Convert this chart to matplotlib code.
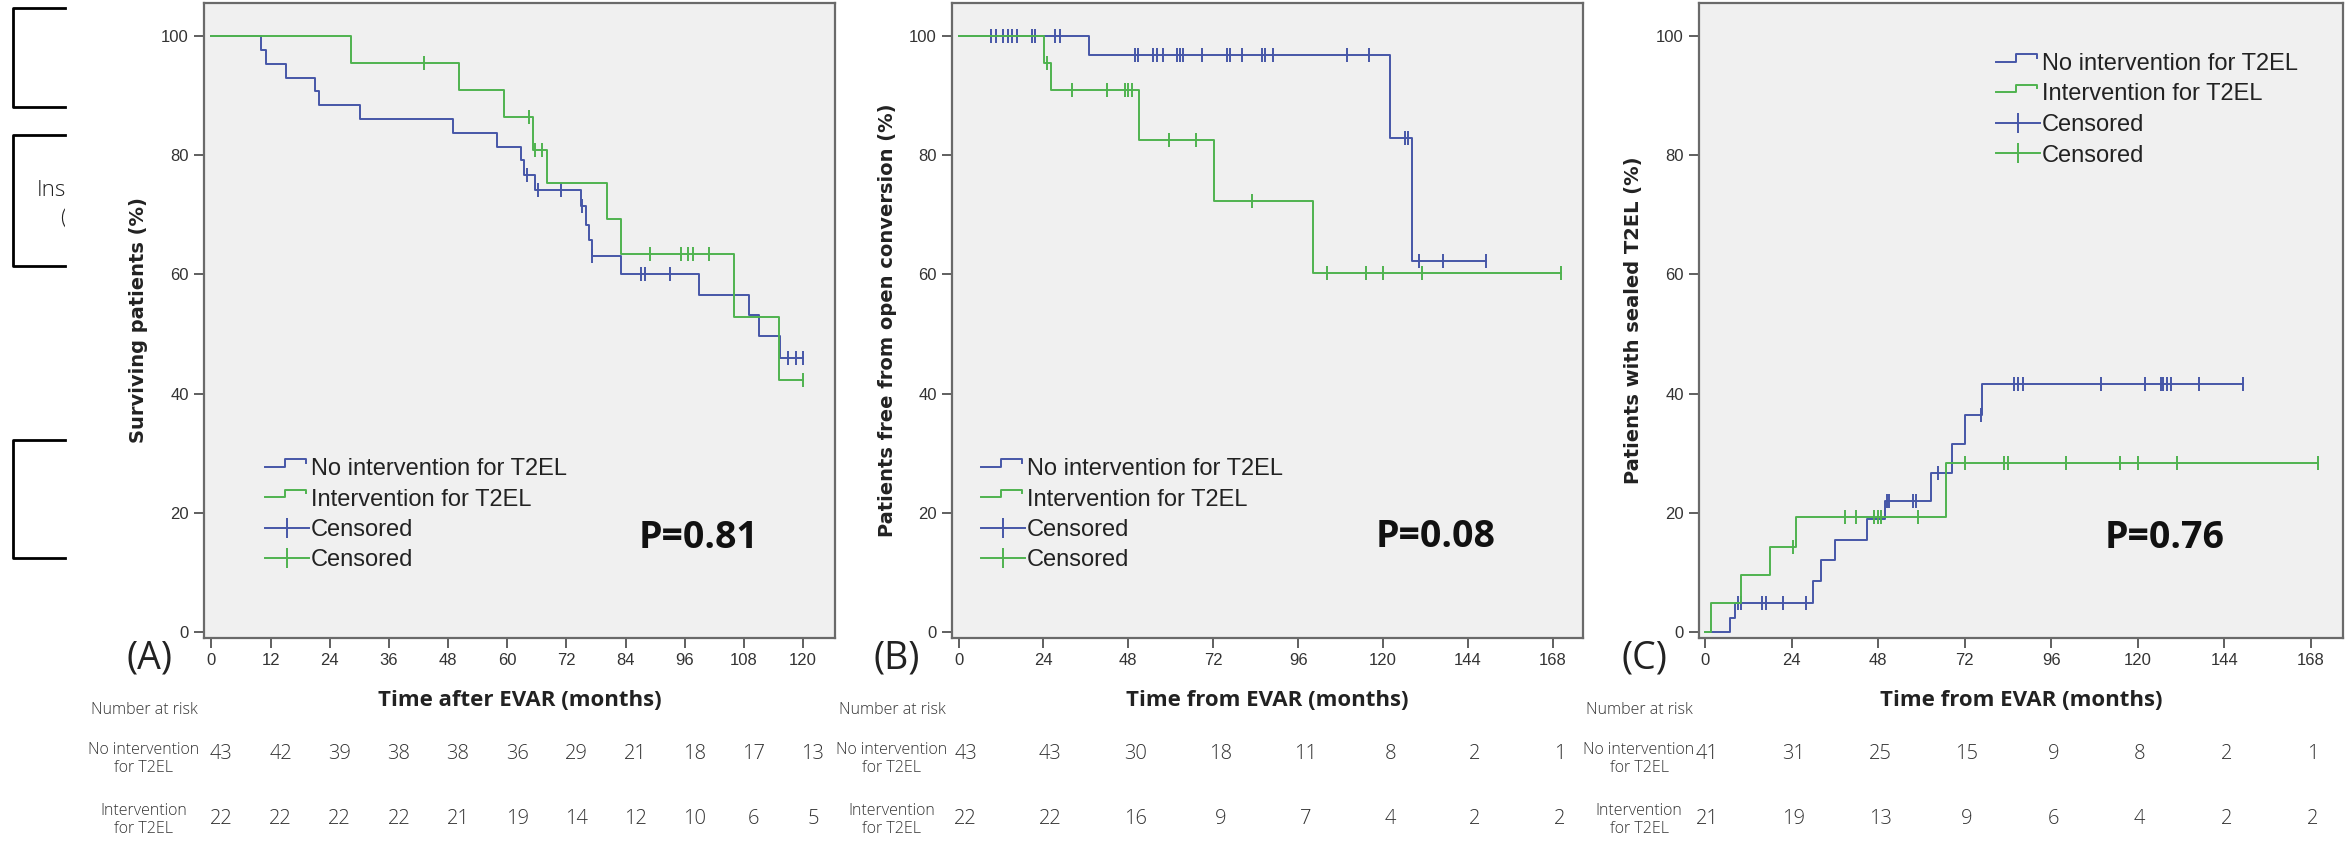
import matplotlib.pyplot as plt
import numpy as np
from matplotlib.lines import Line2D
from matplotlib.legend_handler import HandlerBase
from matplotlib.patches import Rectangle
from matplotlib.transforms import blended_transform_factory, offset_copy

# ---- data (months, %) ----
# (A) survival
a_no_t = [0, 10.0, 11.0, 15.2, 21.1, 21.9, 30.1, 49.0, 58.0, 62.8, 63.5, 65.7, 75.0, 76.0, 76.5, 77.1,
          83.1, 99.0, 109.1, 111.1, 115.3]
a_no_s = [100, 97.7, 95.3, 93.0, 90.7, 88.4, 86.0, 83.7, 81.4, 79.1, 76.7, 74.2, 71.5, 68.3, 65.7, 63.0,
          60.0, 56.6, 53.2, 49.6, 46.0]
a_no_cens = [64.0, 66.3, 70.9, 75.2, 77.1, 87.2, 87.9, 93.1, 117.0, 118.5, 120.0]
a_iv_t = [0, 28.3, 50.3, 59.3, 65.2, 68.1, 80.2, 83.1, 106.0, 115.1]
a_iv_s = [100, 95.5, 90.9, 86.4, 80.9, 75.3, 69.3, 63.4, 52.9, 42.3]
a_iv_cens = [43.2, 64.4, 65.6, 67.0, 89.0, 95.2, 96.7, 97.7, 101.0, 120.0]

# (B) freedom from open conversion
b_no_t = [0, 36.9, 122.0, 128.2]
b_no_s = [100, 96.7, 82.9, 62.2]
b_no_cens = [9.2, 10.7, 12.6, 14.0, 15.1, 16.5, 20.8, 21.6, 27.3, 28.7, 49.9, 50.7, 55.0, 56.1, 57.8,
             61.7, 62.5, 63.4, 68.8, 75.8, 76.6, 80.1, 85.7, 86.5, 88.9, 109.8, 116.0, 126.1, 127.1,
             130.2, 137.0, 149.0]
b_iv_t = [0, 24.2, 26.0, 50.9, 72.1, 100.2]
b_iv_s = [100, 95.5, 90.9, 82.6, 72.3, 60.3]
b_iv_cens = [24.9, 32.0, 41.9, 47.0, 47.9, 49.0, 59.4, 67.1, 82.9, 104.1, 115.1, 120.0, 130.9, 170.2]

# (C) sealed T2EL
c_no_t = [0, 6.8, 8.2, 30.0, 32.1, 36.1, 45.0, 49.8, 62.6, 68.6, 72.2, 76.8]
c_no_s = [0, 2.4, 4.9, 8.5, 12.0, 15.4, 18.9, 22.0, 26.6, 31.6, 36.4, 41.6]
c_no_cens = [9.2, 9.9, 15.7, 17.0, 21.5, 28.0, 50.5, 51.0, 57.6, 58.5, 64.7, 76.4, 85.6, 86.7, 88.1,
             109.9, 121.9, 126.3, 127.0, 128.0, 129.1, 136.9, 149.2]
c_iv_t = [0, 1.8, 9.9, 18.1, 25.1, 66.9]
c_iv_s = [0, 4.8, 9.5, 14.3, 19.3, 28.4]
c_iv_cens = [24.3, 38.9, 41.8, 47.0, 48.1, 48.8, 59.2, 72.2, 82.8, 84.0, 100.2, 115.0, 120.0, 130.9, 170.1]

# number at risk
risk_a_months = [0, 12, 24, 36, 48, 60, 72, 84, 96, 108, 120]
risk_a_no = [43, 42, 39, 38, 38, 36, 29, 21, 18, 17, 13]
risk_a_iv = [22, 22, 22, 22, 21, 19, 14, 12, 10, 6, 5]
risk_bc_months = [0, 24, 48, 72, 96, 120, 144, 168]
risk_b_no = [43, 43, 30, 18, 11, 8, 2, 1]
risk_b_iv = [22, 22, 16, 9, 7, 4, 2, 2]
risk_c_no = [41, 31, 25, 15, 9, 8, 2, 1]
risk_c_iv = [21, 19, 13, 9, 6, 4, 2, 2]

labels = ["No intervention for T2EL", "Intervention for T2EL", "Censored", "Censored"]
BLUE = "#4656a8"
GREEN = "#4fb34f"
BG = "#f0f0f0"

W, H = 2349, 843
fig = plt.figure(figsize=(W / 100, H / 100), dpi=100)


class StepHandler(HandlerBase):
    def create_artists(self, legend, orig_handle, xdescent, ydescent, width, height, fontsize, trans):
        xs = np.array([0, 0.45, 0.45, 0.95, 0.95]) * width - xdescent
        ys = np.array([0.5, 0.5, 0.95, 0.95, 0.75]) * height - ydescent
        ln = Line2D(xs, ys, color=orig_handle.get_color(), lw=orig_handle.get_linewidth())
        ln.set_transform(trans)
        return [ln]


def fy(y_px):
    return 1 - y_px / H


def km(ax, t, s, end, cens, color):
    t = np.array(t)
    s = np.array(s)
    ax.step(np.append(t, end), np.append(s, s[-1]), where="post", color=color, lw=1.4)
    c = np.array(cens)
    cy = s[np.searchsorted(t, c, side="right") - 1]
    ax.plot(c, cy, ls="none", marker="|", ms=10, mew=1.4, color=color)


def panel(left, right, x0, xmax, xticks, ylabel, tag, pval, curves, leg_xy, risk, risk_off):
    ax = fig.add_axes([left / W, fy(638), (right - left) / W, (638 - 3) / H])
    ax.set_facecolor(BG)
    ax.set_xlim(x0, xmax)
    ax.set_ylim(-1.0, 105.5)
    for c in curves:
        km(ax, *c)
    ax.set_xticks(xticks)
    ax.set_yticks([0, 20, 40, 60, 80, 100])
    ax.tick_params(direction="out", length=7, width=1.2, color="#444444", labelsize=12,
                   labelcolor="#333333", pad=4)
    for lab in ax.get_xticklabels() + ax.get_yticklabels():
        lab.set_family("Liberation Sans")
    for sp in ax.spines.values():
        sp.set_color("#6a6a6a")
        sp.set_linewidth(1.6)

    ax.set_ylabel(ylabel, family="DejaVu Sans", weight="bold", fontsize=14, color="#222222")
    ax.yaxis.set_label_coords(-65 / (right - left), 0.5)
    ax.yaxis.label.set_va("center")
    ax.set_xlabel("Time after EVAR (months)" if tag == "(A)" else "Time from EVAR (months)",
                  family="Open Sans", weight="bold", fontsize=16, color="#222222")
    ax.xaxis.set_label_coords(0.5, -(700 - 638) / 635)
    ax.xaxis.label.set_va("center")

    fig.text((left - 55) / W, fy(658), tag, family="Open Sans", fontsize=27,
             ha="center", va="center", color="#222222")
    ax.text(pval[1], pval[2], pval[0], transform=ax.transAxes, family="Open Sans",
            weight="bold", fontsize=27, ha="center", va="center", color="#111111")

    h_no = Line2D([], [], color=BLUE, lw=1.4)
    h_iv = Line2D([], [], color=GREEN, lw=1.4)
    h_cn = Line2D([], [], color=BLUE, lw=1.4, marker="|", ms=15, mew=1.4)
    h_ci = Line2D([], [], color=GREEN, lw=1.4, marker="|", ms=15, mew=1.4)
    ax.legend([h_no, h_iv, h_cn, h_ci], labels,
              handler_map={h_no: StepHandler(), h_iv: StepHandler()},
              loc="upper left", bbox_to_anchor=(leg_xy[0] / W, fy(leg_xy[1])),
              bbox_transform=fig.transFigure, frameon=False, borderpad=0, borderaxespad=0,
              handlelength=1.85, handletextpad=0.1, labelspacing=0.36,
              prop={"family": "Liberation Sans", "size": 17}, labelcolor="#222222")

    # number at risk table
    months, n_no, n_iv = risk
    tr = offset_copy(blended_transform_factory(ax.transData, fig.transFigure), fig=fig,
                     x=risk_off, y=0, units="dots")
    lab_x = (left - 60) / W
    tkw = dict(family="Open Sans", weight="light", color="#333333", ha="center", va="center")
    fig.text(lab_x, fy(710), "Number at risk", fontsize=11.5, **tkw)
    fig.text(lab_x, fy(759), "No intervention\nfor T2EL", fontsize=11.5, linespacing=1.15, **tkw)
    fig.text(lab_x, fy(820), "Intervention\nfor T2EL", fontsize=11.5, linespacing=1.15, **tkw)
    for m, a, b in zip(months, n_no, n_iv):
        ax.text(m, fy(754), str(a), transform=tr, fontsize=14.5, **tkw)
        ax.text(m, fy(819), str(b), transform=tr, fontsize=14.5, **tkw)
    return ax


panel(204, 835, -1.52, 126.5, risk_a_months, "Surviving patients (%)", "(A)",
      ("P=0.81", (698 - 204) / 631, (638 - 538) / 635),
      [(a_no_t, a_no_s, 120.0, a_no_cens, BLUE), (a_iv_t, a_iv_s, 120.0, a_iv_cens, GREEN)],
      (265, 458), (risk_a_months, risk_a_no, risk_a_iv), 10)
panel(952, 1583, -1.84, 176.5, risk_bc_months, "Patients free from open conversion (%)", "(B)",
      ("P=0.08", (1436 - 952) / 631, (638 - 537) / 635),
      [(b_no_t, b_no_s, 149.0, b_no_cens, BLUE), (b_iv_t, b_iv_s, 170.2, b_iv_cens, GREEN)],
      (981, 458), (risk_bc_months, risk_b_no, risk_b_iv), 7)
panel(1699, 2343, -1.66, 176.9, risk_bc_months, "Patients with sealed T2EL (%)", "(C)",
      ("P=0.76", (2165 - 1699) / 644, (638 - 538) / 635),
      [(c_no_t, c_no_s, 149.2, c_no_cens, BLUE), (c_iv_t, c_iv_s, 170.1, c_iv_cens, GREEN)],
      (1996, 53), (risk_bc_months, risk_c_no, risk_c_iv), 2)

# cut-off boxes from a neighbouring figure at the left edge
for top, bot in [(8, 107), (135, 266), (440, 558)]:
    xs = np.array([65, 13, 13, 65]) / W
    ys = fy(np.array([top, top, bot, bot]))
    fig.add_artist(Line2D(xs, ys, color="black", lw=2.0, transform=fig.transFigure))
clip = Rectangle((0, 0), 65 / W, 1, transform=fig.transFigure)
for txt, x, y in [("Inser", 37, 190), ("(", 60, 218)]:
    t = fig.text(x / W, fy(y), txt, family="Open Sans", weight="light", fontsize=16,
                 va="center", color="#222222")
    t.set_clip_path(clip)

fig.savefig("out.png", dpi=100, facecolor="white")
